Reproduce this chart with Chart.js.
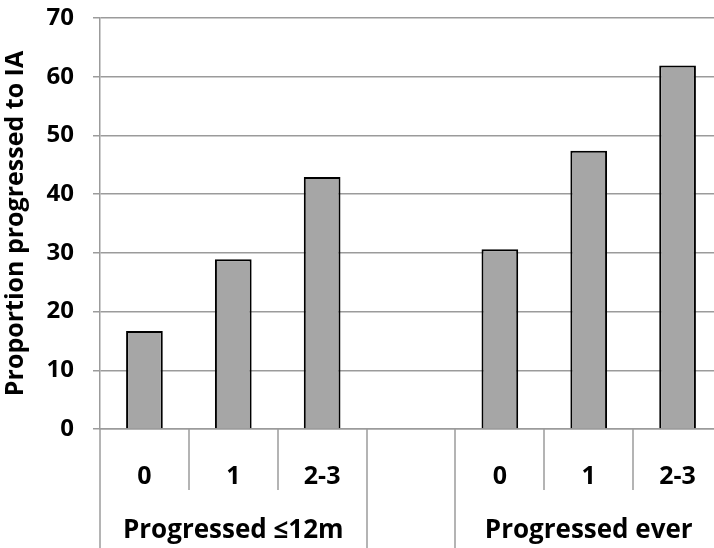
<!DOCTYPE html>
<html>
<head>
<meta charset="utf-8">
<script src="https://cdn.jsdelivr.net/npm/chart.js@4"></script>
<style>
  html, body { margin: 0; padding: 0; background: #fff; overflow: hidden; }
  #wrap { width: 714px; height: 548px; overflow: hidden; }
  canvas { display: block; }
</style>
</head>
<body>
<div id="wrap"><canvas id="c" width="722" height="548"></canvas></div>
<script>
// Number of progression factors within each outcome group
const categories = ['0', '1', '2-3', '', '0', '1', '2-3'];
// Percentage progressed to inflammatory arthritis
const proportions = [16.7, 28.9, 42.9, null, 30.6, 47.4, 61.9];
// Outcome groups: label and the category span [first, last] they cover
const groupLabels = ['Progressed \u226412m', 'Progressed ever'];
const groupSpans = [[0, 2], [4, 6]];
const yTicks = [0, 10, 20, 30, 40, 50, 60, 70];

const FONT = '"Open Sans", "Noto Sans", sans-serif';
const GRID = '#9b9b9b';

// Category separators below the axis and the group captions
const groupAxis = {
  id: 'groupAxis',
  afterDraw(chart) {
    const x = chart.scales.x;
    const ctx = chart.ctx;
    const area = chart.chartArea;
    const n = categories.length;
    const edge = i => {
      if (i === 0) return area.left;
      if (i === n) return area.right;
      return (x.getPixelForValue(i - 1) + x.getPixelForValue(i)) / 2;
    };
    const longEdges = new Set();
    groupSpans.forEach(s => { longEdges.add(s[0]); longEdges.add(s[1] + 1); });
    ctx.save();
    ctx.strokeStyle = GRID;
    ctx.lineWidth = 1.5;
    for (let i = 0; i <= n; i++) {
      const px = Math.round(edge(i));
      ctx.beginPath();
      ctx.moveTo(px, area.bottom);
      ctx.lineTo(px, longEdges.has(i) ? chart.height : area.bottom + 61);
      ctx.stroke();
    }
    ctx.fillStyle = '#000';
    ctx.font = 'bold 26px ' + FONT;
    ctx.textAlign = 'center';
    ctx.textBaseline = 'middle';
    groupLabels.forEach((g, k) => {
      const cx = (edge(groupSpans[k][0]) + edge(groupSpans[k][1] + 1)) / 2;
      ctx.fillText(g, cx, 531);
    });
    ctx.restore();
  }
};

new Chart(document.getElementById('c'), {
  type: 'bar',
  data: {
    labels: categories,
    datasets: [{
      data: proportions,
      backgroundColor: '#a6a6a6',
      borderColor: '#000',
      borderWidth: 2,
      borderSkipped: 'bottom',
      barPercentage: 0.413,
      categoryPercentage: 1.0
    }]
  },
  options: {
    responsive: false,
    animation: false,
    devicePixelRatio: 1,
    layout: { padding: { top: 18, left: 0, right: 0, bottom: 0 } },
    plugins: { legend: { display: false }, tooltip: { enabled: false } },
    scales: {
      x: {
        offset: true,
        grid: { display: false },
        border: { display: true, color: GRID, width: 1.5 },
        ticks: {
          color: '#000',
          font: { family: FONT, size: 25, weight: 'bold' },
          padding: 25,
          maxRotation: 0,
          autoSkip: false
        },
        afterFit(scale) {
          scale.height = 119;
          scale.paddingLeft = 0;
          scale.paddingRight = 0;
        }
      },
      y: {
        min: 0,
        max: 70,
        afterBuildTicks(scale) { scale.ticks = yTicks.map(v => ({ value: v })); },
        grid: { color: GRID, lineWidth: 1.5, tickLength: 7, drawTicks: true },
        border: { display: true, color: GRID, width: 1.5 },
        ticks: {
          color: '#000',
          font: { family: FONT, size: 24, weight: 'bold' },
          padding: 19
        },
        title: {
          display: true,
          text: 'Proportion progressed to IA',
          color: '#000',
          font: { family: FONT, size: 25, weight: 'bold' },
          padding: { top: 1, bottom: 0 }
        },
        afterFit(scale) {
          scale.width = 100;
          scale.paddingTop = 0;
          scale.paddingBottom = 0;
        }
      }
    }
  },
  plugins: [groupAxis]
});
</script>
</body>
</html>
